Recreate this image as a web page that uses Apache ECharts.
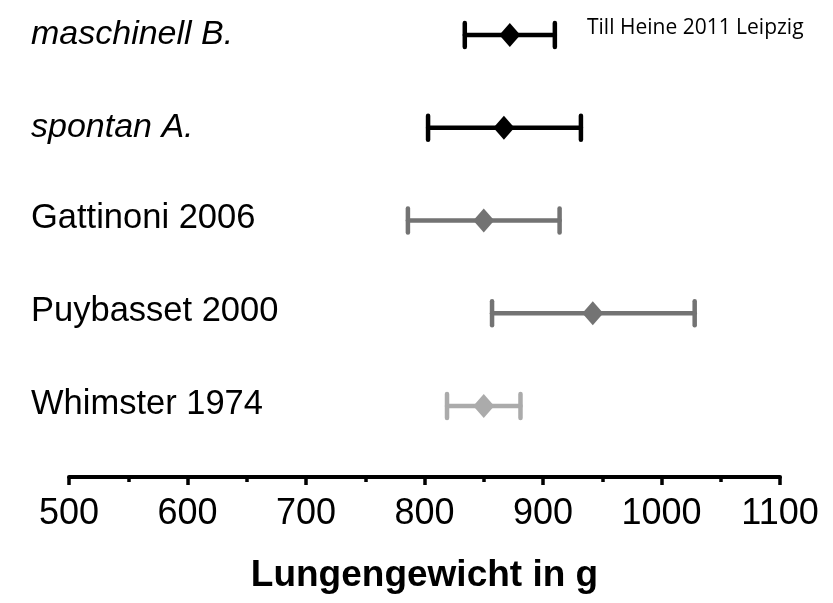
<!DOCTYPE html>
<html>
<head>
<meta charset="utf-8">
<script src="https://cdn.jsdelivr.net/npm/echarts@6/dist/echarts.min.js"></script>
<style>
  html, body { margin: 0; padding: 0; background: #fff; }
  #chart { width: 833px; height: 603px; }
</style>
</head>
<body>
<div id="chart"></div>
<script>
// rows from bottom (0) to top (4)
var studies = ['Whimster 1974', 'Puybasset 2000', 'Gattinoni 2006', 'spontan A.', 'maschinell B.'];
var means = [850, 942, 850, 867, 872];
var lows = [819, 857, 786, 803, 834];
var highs = [881, 1028, 914, 932, 910];
var xTicks = [500, 600, 700, 800, 900, 1000, 1100];

var rowColors = ['#ababab', '#737373', '#737373', '#000000', '#000000'];
var italicRows = [3, 4];

var chart = echarts.init(document.getElementById('chart'));

var barData = studies.map(function (s, i) {
    return [i, lows[i], means[i], highs[i]];
});

function renderBar(params, api) {
    var row = api.value(0);
    var lo = api.coord([api.value(1), row]);
    var mid = api.coord([api.value(2), row]);
    var hi = api.coord([api.value(3), row]);
    var color = rowColors[row];
    var capH = 12, dw = 10.5, dh = 12;
    var lineStyle = { stroke: color, lineWidth: 4.5, lineCap: 'round' };
    return {
        type: 'group',
        children: [
            { type: 'line', shape: { x1: lo[0], y1: lo[1], x2: hi[0], y2: hi[1] }, style: lineStyle },
            { type: 'line', shape: { x1: lo[0], y1: lo[1] - capH, x2: lo[0], y2: lo[1] + capH }, style: lineStyle },
            { type: 'line', shape: { x1: hi[0], y1: hi[1] - capH, x2: hi[0], y2: hi[1] + capH }, style: lineStyle },
            {
                type: 'polygon',
                shape: { points: [[mid[0], mid[1] - dh], [mid[0] + dw, mid[1]], [mid[0], mid[1] + dh], [mid[0] - dw, mid[1]]] },
                style: { fill: color }
            }
        ]
    };
}

var option = {
    animation: false,
    backgroundColor: '#ffffff',
    title: {
        text: 'Till Heine 2011 Leipzig',
        left: 587,
        top: 18,
        padding: 0,
        textStyle: { fontFamily: 'Open Sans', fontSize: 21, fontWeight: 'normal', color: '#000' }
    },
    grid: { left: 69, right: 53, top: 16.4, bottom: 126 },
    xAxis: {
        type: 'value',
        min: xTicks[0],
        max: xTicks[xTicks.length - 1],
        interval: 100,
        name: 'Lungengewicht in g',
        nameLocation: 'middle',
        nameGap: 80,
        nameTextStyle: { fontFamily: 'Liberation Sans', fontSize: 37, fontWeight: 'bold', color: '#000' },
        axisLine: { onZero: false, lineStyle: { color: '#000', width: 4 } },
        axisTick: { length: 8, lineStyle: { color: '#000', width: 3.5 } },
        minorTick: { show: true, splitNumber: 2, length: 5, lineStyle: { color: '#000', width: 3.5 } },
        splitLine: { show: false },
        axisLabel: {
            margin: 19,
            fontFamily: 'Liberation Sans',
            fontSize: 36,
            color: '#000',
            formatter: function (v) { return String(v); }
        }
    },
    yAxis: {
        type: 'value',
        min: -0.765,
        max: 4.2,
        axisLine: { show: false },
        axisTick: { show: false },
        splitLine: { show: false },
        axisLabel: {
            customValues: [0, 1, 2, 3, 4],
            align: 'left',
            margin: 38,
            formatter: function (v) {
                var i = Math.round(v);
                return (italicRows.indexOf(i) >= 0 ? '{it|' : '{n|') + studies[i] + '}';
            },
            rich: {
                it: { fontFamily: 'Liberation Sans', fontStyle: 'italic', fontSize: 34, color: '#000', padding: [0, 0, 0, 0] },
                n: { fontFamily: 'Liberation Sans', fontSize: 34.5, color: '#000', padding: [0, 0, 4, 0] }
            }
        }
    },
    series: [{
        type: 'custom',
        renderItem: renderBar,
        encode: { x: [1, 2, 3], y: 0 },
        data: barData
    }]
};

chart.setOption(option);
</script>
</body>
</html>
